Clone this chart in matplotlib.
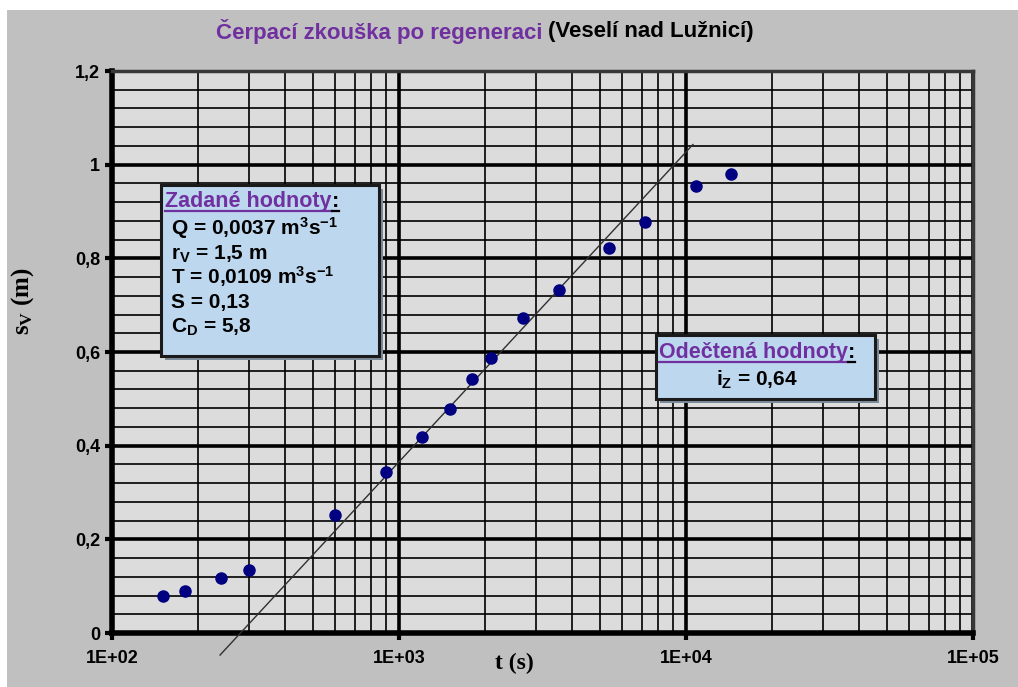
import matplotlib
matplotlib.use("Agg")
import matplotlib.pyplot as plt
import matplotlib.patches as patches
from matplotlib.ticker import FixedLocator, NullFormatter
import numpy as np

# measured drawdown after regeneration
t_s = [150, 180, 240, 300, 600, 900, 1200, 1500, 1800, 2100, 2700, 3600, 5400, 7200, 10800, 14400]
s_v = [0.079, 0.090, 0.117, 0.135, 0.252, 0.344, 0.419, 0.479, 0.543, 0.588, 0.673, 0.733, 0.823, 0.878, 0.955, 0.981]

# straight-line fit (endpoints as drawn)
fit_t = [238, 10570]
fit_s = [-0.047, 1.043]

x_ticks = [1e2, 1e3, 1e4, 1e5]
x_ticklabels = ["1E+02", "1E+03", "1E+04", "1E+05"]
y_ticks = [0, 0.2, 0.4, 0.6, 0.8, 1.0, 1.2]
y_ticklabels = ["0", "0,2", "0,4", "0,6", "0,8", "1", "1,2"]

given_lines = [r"Q = 0,0037 m$^{3}$s$^{-1}$",
               r"r$_{V}$ = 1,5 m",
               r"T = 0,0109 m$^{3}$s$^{-1}$",
               r"S = 0,13",
               r"C$_{D}$ = 5,8"]
read_line = r"i$_{Z}$ = 0,64"

plt.rcParams["font.family"] = ["Liberation Sans", "DejaVu Sans"]
plt.rcParams["mathtext.default"] = "regular"

W, H = 1018, 687
PURPLE = "#7030a0"
fig = plt.figure(figsize=(W / 100, H / 100), dpi=100, facecolor="white")

def px(x, y):
    return (x / W, 1 - y / H)

# grey chart area
fig.patches.append(patches.Rectangle(px(7, H), (W - 7) / W, (H - 10) / H,
                                     transform=fig.transFigure, facecolor="#c0c0c0",
                                     edgecolor="none", zorder=-10))

ax = fig.add_axes([112 / W, 1 - 633 / H, (973 - 112) / W, (633 - 71) / H])
ax.set_facecolor("#dcdcdc")
ax.set_xscale("log")
ax.set_xlim(1e2, 1e5)
ax.set_ylim(0, 1.2)

ax.xaxis.set_major_locator(FixedLocator(x_ticks))
ax.xaxis.set_minor_locator(FixedLocator([m * 10 ** d for d in (2, 3, 4) for m in range(2, 10)]))
ax.xaxis.set_minor_formatter(NullFormatter())
ax.set_xticklabels(x_ticklabels)
ax.yaxis.set_major_locator(FixedLocator(y_ticks))
ax.yaxis.set_minor_locator(FixedLocator(np.arange(0, 1.2001, 0.04)))
ax.set_yticklabels(y_ticklabels)

ax.grid(which="major", color="black", linewidth=2.6)
ax.grid(which="minor", color="black", linewidth=1.2)
ax.set_axisbelow(True)

ax.tick_params(which="major", length=5, width=3, direction="out", color="black",
               labelsize=13)
ax.tick_params(which="minor", length=0)
ax.tick_params(axis="x", pad=7)
for lab in ax.get_xticklabels() + ax.get_yticklabels():
    lab.set_fontweight("bold")

for side in ("left", "bottom"):
    ax.spines[side].set_linewidth(4)
    ax.spines[side].set_color("black")
for side in ("top", "right"):
    ax.spines[side].set_linewidth(2.5)
    ax.spines[side].set_color("#383838")

ax.plot(fit_t, fit_s, color="#303030", linewidth=1.0, clip_on=False, zorder=3)
ax.plot(t_s, s_v, linestyle="none", marker="o", markersize=8,
        color="#000080", zorder=4)

ax.set_xlabel("t (s)", family=["Liberation Serif"], fontweight="bold", fontsize=17)
ax.xaxis.set_label_coords(0.467, -0.035)
ax.set_ylabel(r"s$_{V}$ (m)", family=["Liberation Serif"], fontweight="bold", fontsize=18)
ax.yaxis.set_label_coords(-0.088, 0.59)

# title
t1 = fig.text(*px(216, 31), "Čerpací zkouška po regeneraci", color=PURPLE,
              fontsize=16, fontweight="bold", va="center", ha="left")
fig.canvas.draw()
bb = t1.get_window_extent()
fig.text(bb.x1 / W + 5 / W, px(0, 31)[1], "(Veselí nad Lužnicí)", color="black",
         fontsize=16, fontweight="bold", va="center", ha="left")

def box(x0, y0, x1, y1):
    fig.patches.append(patches.Rectangle(px(x0 + 4, y1 + 4), (x1 - x0) / W, (y1 - y0) / H,
                                         transform=fig.transFigure, facecolor="#7a8a99",
                                         edgecolor="none", zorder=5))
    fig.patches.append(patches.Rectangle(px(x0, y1), (x1 - x0) / W, (y1 - y0) / H,
                                         transform=fig.transFigure, facecolor="#bdd7ee",
                                         edgecolor="#1a1a1a", linewidth=2.2, zorder=6))

def heading(x, y, label):
    t = fig.text(*px(x, y), label, color=PURPLE, fontsize=15.5, fontweight="bold",
                 va="baseline", ha="left", zorder=7)
    fig.canvas.draw()
    b = t.get_window_extent()
    c = fig.text(b.x1 / W, px(0, y)[1], ":", color="black", fontsize=15.5,
                 fontweight="bold", va="baseline", ha="left", zorder=7)
    fig.canvas.draw()
    b2 = c.get_window_extent()
    uy = px(0, y + 4)[1]
    fig.lines.append(plt.Line2D([b.x0 / W, b.x1 / W], [uy, uy], transform=fig.transFigure,
                                color=PURPLE, linewidth=1.6, zorder=7))
    fig.lines.append(plt.Line2D([b.x1 / W, b2.x1 / W], [uy, uy], transform=fig.transFigure,
                                color="black", linewidth=1.6, zorder=7))

box(161, 185, 379, 356)
heading(165, 207, "Zadané hodnoty")
for i, line in enumerate(given_lines):
    fig.text(*px(171, 235 + i * 24.3), line, color="black", fontsize=15,
             fontweight="bold", va="baseline", ha="left", zorder=7)

box(656, 335, 875, 399)
heading(659, 358, "Odečtená hodnoty")
fig.text(*px(757, 386), read_line, color="black", fontsize=15,
         fontweight="bold", va="baseline", ha="center", zorder=7)

fig.savefig("out.png", dpi=100, facecolor=fig.get_facecolor())
